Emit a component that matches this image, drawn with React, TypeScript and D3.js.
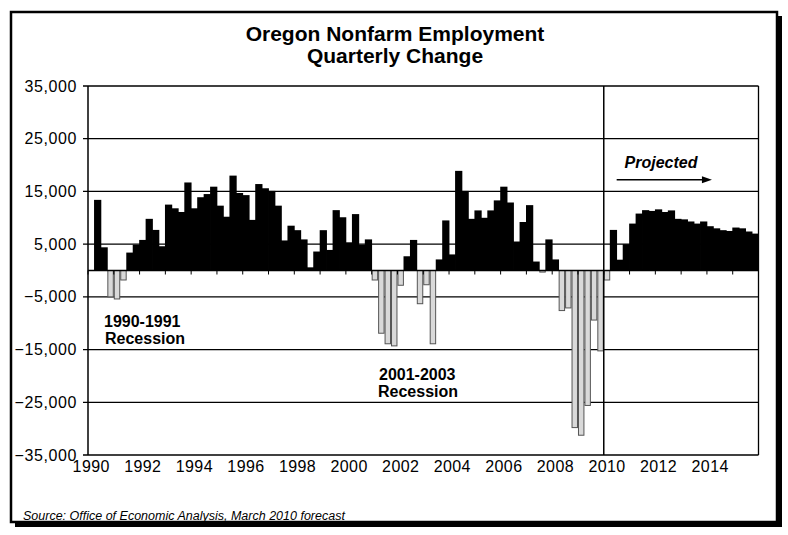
import React from 'react';
import * as d3 from 'd3';

const years = [
  1990, 1991, 1992, 1993, 1994, 1995, 1996, 1997, 1998, 1999, 2000, 2001, 2002,
  2003, 2004, 2005, 2006, 2007, 2008, 2009, 2010, 2011, 2012, 2013, 2014, 2015,
];
const quarters = years.flatMap((y) => [`${y}Q1`, `${y}Q2`, `${y}Q3`, `${y}Q4`]);

// quarterly change in nonfarm jobs, 1990Q1 - 2015Q4 (2010Q2 on = forecast)
const change = [
  0, 13400, 4400, -5000, -5400, -1800, 3400, 4900, 5800, 9800, 7700, 4600,
  12500, 11800, 11100, 16700, 11800, 13900, 14500, 15900, 12300, 10200, 18000, 14700,
  14300, 9600, 16400, 15600, 15100, 12300, 5700, 8500, 7650, 5900, 600, 3600,
  7650, 3900, 11450, 10100, 5350, 10700, 4900, 5900, -1800, -11900, -13900, -14300,
  -2800, 2700, 5800, -6300, -2700, -13900, 2100, 9500, 3050, 18900, 15100, 9800,
  11400, 10000, 11400, 13300, 15900, 12900, 5500, 9200, 12400, 1700, -300, 5900,
  2100, -7600, -7100, -29800, -31250, -25600, -9400, -15250, -1800, 7700, 2050, 5000,
  8900, 10800, 11450, 11300, 11600, 11100, 11400, 9800, 9700, 9300, 8900, 9300,
  8400, 8000, 7650, 7500, 8150, 8000, 7400, 7000,
];

const yTicks = [35000, 25000, 15000, 5000, -5000, -15000, -25000, -35000];
const xTickLabels = ['1990', '1992', '1994', '1996', '1998', '2000', '2002', '2004', '2006', '2008', '2010', '2012', '2014'];

const W = 788;
const H = 535;
const font = '"Liberation Sans", Arial, sans-serif';

export default function App() {
  const left = 88;
  const right = 758.5;
  const top = 86;
  const bottom = 455;

  const x = d3.scaleBand<string>().domain(quarters).range([left, right]).padding(0);
  const y = d3.scaleLinear().domain([-35000, 35000]).range([bottom, top]);
  const fmt = d3.format(',');
  const y0 = y(0);
  const bw = x.bandwidth();
  const splitX = x('2010Q1')!;
  const arrowY = y(17200);

  return (
    <svg width={W} height={H} style={{ display: 'block', position: 'absolute', left: 0, top: 0 }}>
      <rect x={0} y={0} width={W} height={H} fill="#fff" />
      {/* frame with shadow */}
      <rect x={15} y={16} width={767} height={511} fill="#000" />
      <rect x={11} y={12} width={766} height={510} fill="#fff" stroke="#000" strokeWidth={2.5} />

      <text x={395} y={41} textAnchor="middle" fontFamily={font} fontWeight="bold" fontSize={21}>
        Oregon Nonfarm Employment
      </text>
      <text x={395} y={63} textAnchor="middle" fontFamily={font} fontWeight="bold" fontSize={21}>
        Quarterly Change
      </text>

      {/* gridlines */}
      {yTicks.map((t) => (
        <g key={t}>
          <line x1={left - 5} x2={right} y1={y(t)} y2={y(t)} stroke="#000" strokeWidth={1.3} />
          <text x={77} y={y(t) + 5.5} textAnchor="end" fontFamily={font} fontSize={16} letterSpacing={0.6}>
            {fmt(t)}
          </text>
        </g>
      ))}

      {/* bars */}
      {change.map((v, i) => {
        const q = quarters[i];
        if (v >= 0) {
          return (
            <rect key={q} x={x(q)! - 0.4} y={y(v)} width={bw + 0.8} height={y0 - y(v)} fill="#000" />
          );
        }
        return (
          <rect
            key={q}
            x={x(q)! + 0.5}
            y={y0}
            width={bw - 1}
            height={y(v) - y0}
            fill="#d9d9d9"
            stroke="#555"
            strokeWidth={1}
          />
        );
      })}

      {/* axes */}
      <line x1={left} x2={right} y1={y0} y2={y0} stroke="#000" strokeWidth={1.5} />
      {years.map((yr) => (
        <line key={yr} x1={x(`${yr}Q1`)} x2={x(`${yr}Q1`)} y1={y0} y2={y0 + 4} stroke="#000" strokeWidth={1} />
      ))}
      <line x1={left} x2={left} y1={top} y2={bottom} stroke="#000" strokeWidth={1.5} />
      <line x1={right} x2={right} y1={top} y2={bottom} stroke="#000" strokeWidth={1.3} />
      <line x1={splitX} x2={splitX} y1={top} y2={bottom} stroke="#000" strokeWidth={1.5} />

      {xTickLabels.map((l) => (
        <text
          key={l}
          x={x(`${l}Q1`)! + bw / 2}
          y={472}
          textAnchor="middle"
          fontFamily={font}
          fontSize={16}
          letterSpacing={0.4}
        >
          {l}
        </text>
      ))}

      {/* annotations */}
      <g fontFamily={font} fontWeight="bold" fontSize={16}>
        <text x={104} y={327}>1990-1991</text>
        <text x={105} y={344}>Recession</text>
        <text x={379} y={380}>2001-2003</text>
        <text x={378} y={397}>Recession</text>
        <text x={x('2011Q1')! - 5} y={168} fontStyle="italic">Projected</text>
      </g>
      <line x1={x('2010Q3')} x2={x('2014Q1')! - 2} y1={arrowY} y2={arrowY} stroke="#000" strokeWidth={1.5} />
      <path d={`M${x('2014Q1')! + 5} ${arrowY} l-10 -3.5 v7 z`} fill="#000" />

      <text x={23} y={520} fontFamily={font} fontStyle="italic" fontSize={12.5}>
        Source: Office of Economic Analysis, March 2010 forecast
      </text>
    </svg>
  );
}
